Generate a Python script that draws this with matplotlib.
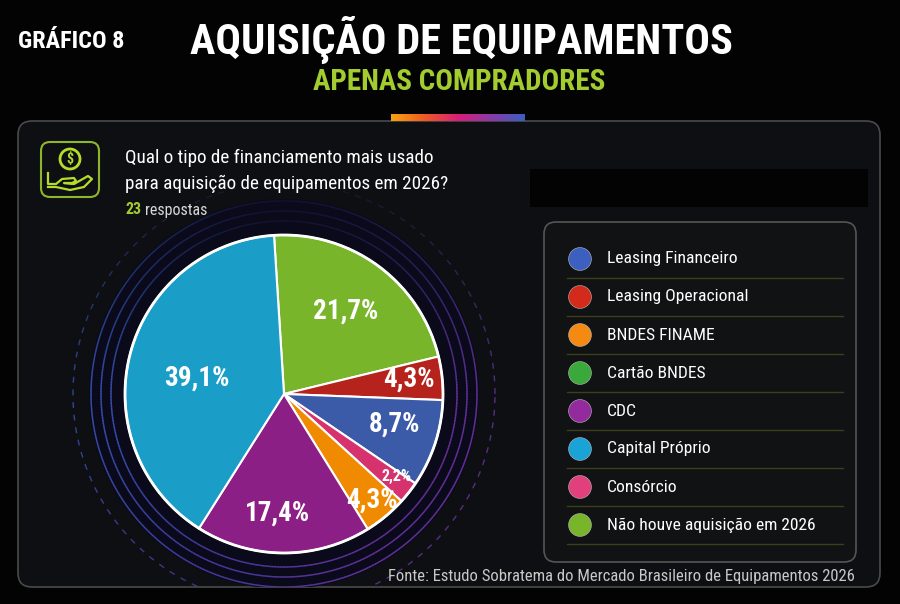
import matplotlib
matplotlib.use("Agg")
import matplotlib.pyplot as plt
import numpy as np
from matplotlib import font_manager
from matplotlib.patches import FancyBboxPatch, Circle, Rectangle
from matplotlib.collections import LineCollection
from matplotlib.colors import LinearSegmentedColormap

# pick a condensed face if one is installed
installed = {f.name for f in font_manager.fontManager.ttflist}
font_name = "Roboto"
for cand in ["Roboto Condensed", "Liberation Sans Narrow", "Open Sans Condensed", "Roboto"]:
    if cand in installed:
        font_name = cand
        break
plt.rcParams["font.family"] = [font_name, "DejaVu Sans"]

# data
slice_labels = ["Não houve aquisição em 2026", "Leasing Operacional", "Leasing Financeiro",
                "Consórcio", "BNDES FINAME", "CDC", "Capital Próprio"]
slice_values = [21.7, 4.3, 8.7, 2.2, 4.3, 17.4, 39.1]
slice_text = ["21,7%", "4,3%", "8,7%", "2,2%", "4,3%", "17,4%", "39,1%"]
slice_colors = ["#78b52b", "#b5231c", "#3b5aa8", "#d6336e", "#f08a00", "#8b1f86", "#1a9ec8"]

legend_labels = ["Leasing Financeiro", "Leasing Operacional", "BNDES FINAME", "Cartão BNDES",
                 "CDC", "Capital Próprio", "Consórcio", "Não houve aquisição em 2026"]
legend_colors = ["#3d60c0", "#d42a1c", "#f58a12", "#3aa83a", "#932a9e", "#1aa3d6", "#e2407c", "#78b52b"]

H = 604
def Y(y):
    return H - y

fig = plt.figure(figsize=(9, 6.04), dpi=100, facecolor="#030303")
ax = fig.add_axes([0, 0, 1, 1])
ax.set_facecolor("#030303")

# titles
ax.text(18, Y(42), "GRÁFICO 8", color="white", fontsize=17.5, fontweight="bold", va="center", ha="left")
ax.text(461, Y(40), "AQUISIÇÃO DE EQUIPAMENTOS", color="white", fontsize=30.5, fontweight="bold",
        va="center", ha="center")
ax.text(459, Y(82), "APENAS COMPRADORES", color="#a3cc2e", fontsize=21, fontweight="bold",
        va="center", ha="center")

# main panel
panel = FancyBboxPatch((18, Y(587)), 862, 466, boxstyle="round,pad=0,rounding_size=14",
                       fc="#0e0f12", ec="#4a4a4a", lw=1.2, zorder=1)
ax.add_patch(panel)

# gradient bar
grad = np.linspace(0, 1, 256).reshape(1, -1)
bar_cmap = LinearSegmentedColormap.from_list("bar", ["#f7a310", "#f05a22", "#d91e7a", "#8a3aa8", "#3a5fc0"])
ax.imshow(grad, cmap=bar_cmap, extent=(391, 525, Y(121), Y(114)), aspect="auto", zorder=3)

# redacted black box
ax.add_patch(Rectangle((530, Y(207)), 338, 38, fc="#030303", ec="none", zorder=2))

# icon
ax.add_patch(FancyBboxPatch((41, Y(197)), 58, 55, boxstyle="round,pad=0,rounding_size=9",
                            fc="none", ec="#8fb52a", lw=1.5, zorder=3))
ax.add_patch(Circle((70, Y(159)), 10, fc="none", ec="#b6dc2a", lw=2, zorder=3))
ax.text(70, Y(159), "$", color="#b6dc2a", fontsize=10, fontweight="bold", ha="center", va="center", zorder=4)
hand_x = [48, 48, 56, 62, 74, 76, 72, 64, 74, 88, 92, 84, 70, 56, 48]
hand_y = [173, 184, 184, 179, 178, 181, 183, 183, 184, 176, 179, 187, 190, 187, 187]
ax.plot(hand_x, [Y(v) for v in hand_y], color="#b6dc2a", lw=1.6, zorder=3, solid_joinstyle="round")

# question
ax.text(125, Y(158), "Qual o tipo de financiamento mais usado", color="white", fontsize=13.8,
        va="center", ha="left", zorder=4)
ax.text(125, Y(184), "para aquisição de equipamentos em 2026?", color="white", fontsize=13.8,
        va="center", ha="left", zorder=4)
t23 = ax.text(125, Y(210), "23", color="#a3cc2e", fontsize=11.5, fontweight="bold",
              va="center", ha="left", zorder=4)

# pie and its rings
cx, cy, R = 284, Y(394), 159
halo = Circle((cx, cy), R + 36, fc="#0a0a1a", ec="none", zorder=2)
ax.add_patch(halo)
halo.set_clip_path(panel)
ring_cmap = LinearSegmentedColormap.from_list("ring", ["#3c62cc", "#4a48b8", "#7a38b4"])

def ring(radius, dashed=False, lw=1.1, alpha=0.85):
    th = np.linspace(0, 2 * np.pi, 721)
    if dashed:
        th = np.concatenate([np.linspace(a, a + 0.028, 4) for a in np.arange(0, 2 * np.pi, 0.06)])
        th = th.reshape(-1, 4)
        segs = [np.column_stack([cx + radius * np.cos(t), cy + radius * np.sin(t)]) for t in th]
        mid = th.mean(axis=1)
    else:
        pts = np.column_stack([cx + radius * np.cos(th), cy + radius * np.sin(th)])
        segs = np.stack([pts[:-1], pts[1:]], axis=1)
        mid = (th[:-1] + th[1:]) / 2
    # blue upper-left, purple lower-right
    pos = (1 - np.cos(mid - np.deg2rad(150))) / 2
    cols = ring_cmap(pos)
    # fade near the top
    fade = 0.15 + 0.85 * np.clip(1 - np.sin(mid), 0, 1) ** 0.8
    cols[:, 3] = np.clip(fade, 0, 1) * alpha
    lc = LineCollection(segs, colors=cols, linewidths=lw, zorder=2.5)
    ax.add_collection(lc)
    lc.set_clip_path(panel)

ring(R + 14)
ring(R + 24)
ring(R + 34)
ring(R + 52, dashed=True, lw=1.0, alpha=0.7)

wedges, _ = ax.pie(slice_values, colors=slice_colors, startangle=93.6, counterclock=False,
                   center=(cx, cy), radius=R, frame=True,
                   wedgeprops=dict(edgecolor="white", linewidth=1.5))
for w in wedges:
    w.set_zorder(3)
ax.add_patch(Circle((cx, cy), R, fc="none", ec="white", lw=2, zorder=4))

label_r = [0.65, 0.79, 0.72, 0.88, 0.87, 0.75, 0.56]
label_shift = [0, 1, 3, 2, 0, -3, 4]
label_size = [19.5, 19.5, 19.5, 11.5, 19.5, 19.5, 19.5]
for w, txt, rr, da, fs in zip(wedges, slice_text, label_r, label_shift, label_size):
    ang = np.deg2rad((w.theta1 + w.theta2) / 2 + da)
    ax.text(cx + rr * R * np.cos(ang), cy + rr * R * np.sin(ang), txt, color="white",
            fontsize=fs, fontweight="bold", ha="center", va="center", zorder=5)

# legend box
ax.add_patch(FancyBboxPatch((544, Y(562)), 312, 340, boxstyle="round,pad=0,rounding_size=12",
                            fc="#111214", ec="#555555", lw=1.2, zorder=2))
rows = np.arange(len(legend_labels))
row_y = [Y(259 + 38 * i) for i in rows]
ax.scatter([580] * len(rows), row_y, s=270, c=legend_colors, edgecolors="#bbbbbb",
           linewidths=0.4, zorder=4)
for i, lab in enumerate(legend_labels):
    ax.text(607, row_y[i], lab, color="white", fontsize=12.6, va="center", ha="left", zorder=4)
    ax.plot([567, 843], [row_y[i] - 19, row_y[i] - 19], color="#3b3f1c", lw=1, zorder=3)

# source
ax.text(855, Y(576), "Fonte: Estudo Sobratema do Mercado Brasileiro de Equipamentos 2026",
        color="#c8c8c8", fontsize=12, ha="right", va="center", zorder=4)

ax.set_xlim(0, 900)
ax.set_ylim(0, H)
ax.set_aspect("equal")
ax.axis("off")

fig.canvas.draw()
bb = t23.get_window_extent()
x_after = ax.transData.inverted().transform((bb.x1, 0))[0]
ax.text(x_after + 4, Y(210), "respostas", color="#d8d8d8", fontsize=11.5, va="center", ha="left", zorder=4)

fig.savefig("out.png", dpi=100, facecolor=fig.get_facecolor())
